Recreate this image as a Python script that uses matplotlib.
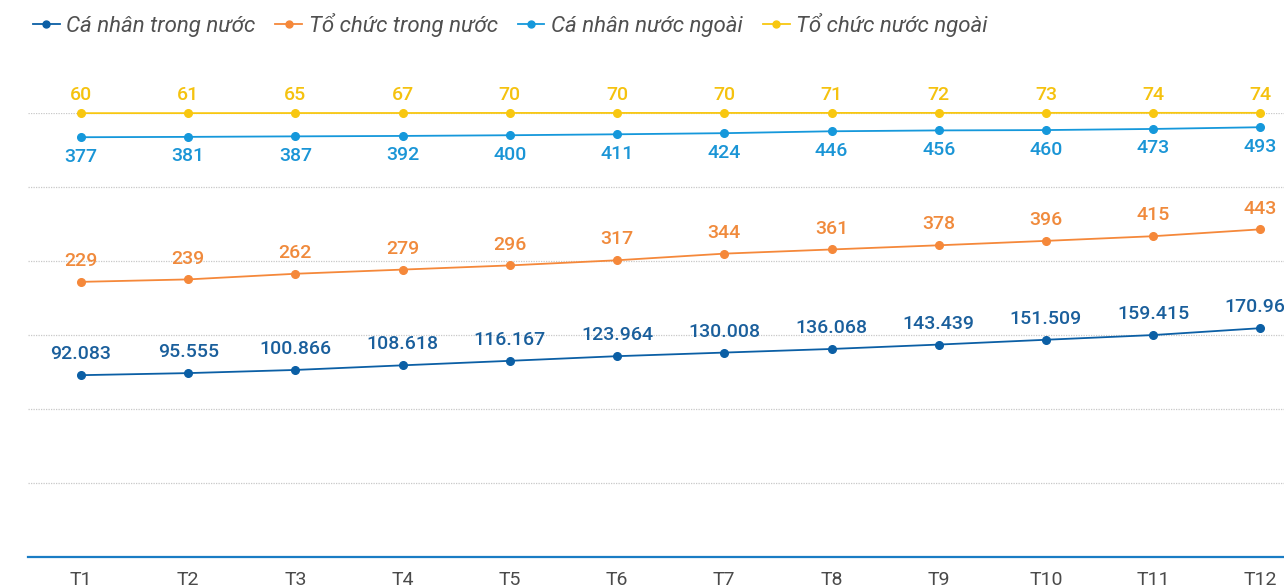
import numpy as np
import matplotlib.pyplot as plt
from matplotlib.lines import Line2D

# du lieu
thang = ['T1', 'T2', 'T3', 'T4', 'T5', 'T6', 'T7', 'T8', 'T9', 'T10', 'T11', 'T12']
ca_nhan_trong_nuoc = [92.083, 95.555, 100.866, 108.618, 116.167, 123.964,
                      130.008, 136.068, 143.439, 151.509, 159.415, 170.963]
to_chuc_trong_nuoc = [229, 239, 262, 279, 296, 317, 344, 361, 378, 396, 415, 443]
ca_nhan_nuoc_ngoai = [377, 381, 387, 392, 400, 411, 424, 446, 456, 460, 473, 493]
to_chuc_nuoc_ngoai = [60, 61, 65, 67, 70, 70, 70, 71, 72, 73, 74, 74]

ten = ['Cá nhân trong nước', 'Tổ chức trong nước', 'Cá nhân nước ngoài', 'Tổ chức nước ngoài']
mau = ['#0b5fa5', '#f5883a', '#1598db', '#f8c710']
mau_chu = ['#1a5f9c', '#f08a3c', '#1a95d6', '#f5c20f']

W, H = 1284, 585
fig = plt.figure(figsize=(W / 100, H / 100), dpi=100)
ax = fig.add_axes([28 / W, 28 / H, 1 - 28 / W, 444 / H])
x = np.arange(len(thang))
ax.set_xlim(-0.494, 11.22)
ax.set_ylim(0, 6)
ax.set_yticks(range(7))
ax.yaxis.grid(True, color='#c8c8c8', linestyle=(0, (1, 1)), lw=0.9)
for s in ['top', 'right', 'left']:
    ax.spines[s].set_visible(False)
ax.spines['bottom'].set_color('#1a7cc4')
ax.spines['bottom'].set_linewidth(1.6)
ax.set_xticks(x)
ax.set_xticklabels(thang, fontsize=14, color='#4a4a4a', family='Roboto')

# moi chuoi mot truc rieng
series = [
    (ca_nhan_trong_nuoc, (-213, 532), 15, lambda v: f'{v:.3f}'),
    (to_chuc_trong_nuoc, (-892, 917), 15, lambda v: f'{v}'),
    (ca_nhan_nuoc_ngoai, (-4493, 658), -14, lambda v: f'{v}'),
    (to_chuc_nuoc_ngoai, (-20000, 67), 13, lambda v: f'{v}'),
]
handles = []
for (vals, lim, off, fmt), c, cc, lab in zip(series, mau, mau_chu, ten):
    a = ax.twinx()
    a.set_ylim(*lim)
    a.axis('off')
    a.plot(x, vals, color=c, lw=1.3, marker='o', ms=5.5, clip_on=False)
    for xi, v in zip(x, vals):
        a.annotate(fmt(v), (xi, v), xytext=(0, off), textcoords='offset points',
                   ha='center', va='center', fontsize=14, color=cc,
                   family='Roboto', fontweight='medium', annotation_clip=False)
    handles.append(Line2D([], [], color=c, lw=1.3, marker='o', ms=5))

# twinx bat lai tick ben trai
ax.tick_params(axis='y', left=False, right=False, labelleft=False)
ax.tick_params(axis='x', length=0, pad=10)

fig.legend(handles, ten, loc='center left', bbox_to_anchor=(24 / W, 1 - 25 / H),
           ncol=4, frameon=False, handlelength=1.2, handletextpad=0.3,
           columnspacing=0.9, borderaxespad=0,
           prop={'family': 'Roboto', 'style': 'italic', 'size': 16},
           labelcolor='#505050')

fig.savefig('out.png', dpi=100)
